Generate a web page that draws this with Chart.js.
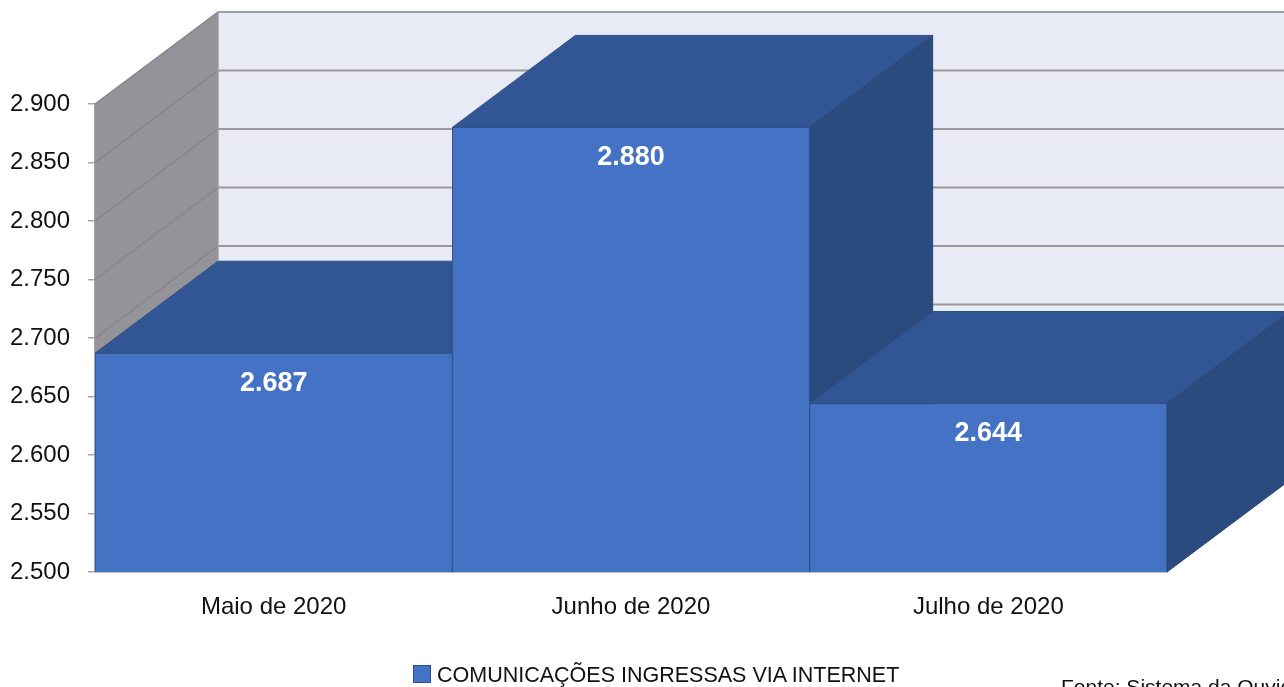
<!DOCTYPE html>
<html>
<head>
<meta charset="utf-8">
<title>Comunicações ingressas via internet</title>
<script src="https://cdn.jsdelivr.net/npm/chart.js@4/dist/chart.umd.min.js"></script>
<style>
  body { margin: 0; width: 1284px; height: 687px; overflow: hidden; background: #fff; position: relative; }
  #chart { position: absolute; left: 0; top: 0; }
  .legend { position: absolute; left: 413px; top: 663px; font-family: "Liberation Sans", Arial, sans-serif; font-size: 21.5px; color: #111; white-space: nowrap; }
  .legend span.box { display: inline-block; width: 16px; height: 16px; background: #4472C4; border: 1px solid #2F528F; margin-right: 6px; vertical-align: -1px; }
  .fonte { position: absolute; left: 1061px; top: 675px; font-family: "Liberation Sans", Arial, sans-serif; font-size: 21px; color: #111; white-space: nowrap; }
</style>
</head>
<body>
<canvas id="chart" width="1284" height="687"></canvas>
<div class="legend"><span class="box"></span>COMUNICAÇÕES INGRESSAS VIA INTERNET</div>
<div class="fonte">Fonte: Sistema da Ouvidoria</div>
<script>
// data
const months = ["Maio de 2020", "Junho de 2020", "Julho de 2020"];
const internetCounts = [2687, 2880, 2644];
const yTicks = [2500, 2550, 2600, 2650, 2700, 2750, 2800, 2850, 2900];
const seriesName = "COMUNICAÇÕES INGRESSAS VIA INTERNET";

// 3d look
const depthX = 123;
const depthY = -92;
const frontColor = "#4472C4";
const topColor = "#325593";
const sideColor = "#2B4A7E";
const edgeColor = "#2F528F";

// format 2687 -> "2.687"
const fmt = (v) => String(v).replace(/\B(?=(\d{3})+(?!\d))/g, ".");

const poly = (ctx, pts, fill, stroke) => {
  ctx.beginPath();
  ctx.moveTo(pts[0][0], pts[0][1]);
  for (let i = 1; i < pts.length; i++) ctx.lineTo(pts[i][0], pts[i][1]);
  ctx.closePath();
  ctx.fillStyle = fill;
  ctx.fill();
  if (stroke) {
    ctx.strokeStyle = stroke;
    ctx.lineWidth = 1;
    ctx.stroke();
  }
};

// walls, gridlines and the top / side faces of the bars
const box3d = {
  id: "box3d",
  beforeDatasetsDraw(chart) {
    const ctx = chart.ctx;
    const area = chart.chartArea;
    const y = chart.scales.y;
    const L = area.left, R = area.right, T = area.top, B = area.bottom;
    ctx.save();

    // back wall
    poly(ctx, [[L + depthX, T + depthY], [R + depthX, T + depthY], [R + depthX, B + depthY], [L + depthX, B + depthY]], "#E8EAF6");
    // left side wall
    poly(ctx, [[L, T], [L + depthX, T + depthY], [L + depthX, B + depthY], [L, B]], "#939399");

    // gridlines
    yTicks.forEach((t) => {
      const py = y.getPixelForValue(t);
      ctx.beginPath();
      ctx.moveTo(L + depthX, py + depthY);
      ctx.lineTo(R + depthX, py + depthY);
      ctx.strokeStyle = "#9A9A9A";
      ctx.lineWidth = 2;
      ctx.stroke();
      ctx.beginPath();
      ctx.moveTo(L, py);
      ctx.lineTo(L + depthX, py + depthY);
      ctx.strokeStyle = "#858588";
      ctx.lineWidth = 1.5;
      ctx.stroke();
    });
    // wall edge
    ctx.beginPath();
    ctx.moveTo(L + depthX, B + depthY);
    ctx.lineTo(L + depthX, T + depthY);
    ctx.lineTo(R + depthX, T + depthY);
    ctx.strokeStyle = "#A0A0A0";
    ctx.lineWidth = 1.5;
    ctx.stroke();

    // bar tops and sides, left to right
    const meta = chart.getDatasetMeta(0);
    meta.data.forEach((bar) => {
      const x0 = bar.x - bar.width / 2;
      const x1 = bar.x + bar.width / 2;
      const top = bar.y;
      const base = Math.min(bar.base, B);
      poly(ctx, [[x0, top], [x1, top], [x1 + depthX, top + depthY], [x0 + depthX, top + depthY]], topColor, "#2E4F8A");
      poly(ctx, [[x1, top], [x1 + depthX, top + depthY], [x1 + depthX, base + depthY], [x1, base]], sideColor, "#284676");
    });
    ctx.restore();
  },
  afterDatasetsDraw(chart) {
    const ctx = chart.ctx;
    const meta = chart.getDatasetMeta(0);
    ctx.save();
    ctx.font = "bold 27px 'Liberation Sans', Arial, sans-serif";
    ctx.fillStyle = "#FFFFFF";
    ctx.textAlign = "center";
    ctx.textBaseline = "middle";
    meta.data.forEach((bar, i) => {
      ctx.fillText(fmt(internetCounts[i]), bar.x, bar.y + 30);
    });
    ctx.restore();
  },
};

const ctx = document.getElementById("chart").getContext("2d");
const myChart = new Chart(ctx, {
  type: "bar",
  data: {
    labels: months,
    datasets: [
      {
        label: seriesName,
        data: internetCounts,
        backgroundColor: frontColor,
        borderColor: edgeColor,
        borderWidth: 1,
        borderSkipped: false,
        categoryPercentage: 1,
        barPercentage: 1,
      },
    ],
  },
  options: {
    responsive: false,
    animation: false,
    layout: { padding: { top: 104, right: 117, left: 0, bottom: 0 } },
    plugins: {
      legend: { display: false },
      tooltip: { enabled: false },
    },
    scales: {
      y: {
        min: 2500,
        max: 2900,
        afterBuildTicks: (scale) => {
          scale.ticks = yTicks.map((v) => ({ value: v }));
        },
        afterFit: (scale) => {
          scale.width = 95;
        },
        ticks: {
          callback: (v) => fmt(v),
          font: { family: "'Liberation Sans', Arial, sans-serif", size: 24 },
          color: "#111",
          padding: 18,
        },
        grid: { drawOnChartArea: false, tickLength: 7, color: "#A6A6A6", lineWidth: 1.5 },
        border: { color: "#A6A6A6", width: 1.5 },
      },
      x: {
        afterFit: (scale) => {
          scale.height = 115;
        },
        ticks: {
          font: { family: "'Liberation Sans', Arial, sans-serif", size: 24 },
          color: "#111",
          padding: 21,
          maxRotation: 0,
        },
        grid: { drawOnChartArea: false, drawTicks: false },
        border: { color: "#C4C4C4", width: 2 },
      },
    },
  },
  plugins: [box3d],
});
</script>
</body>
</html>
